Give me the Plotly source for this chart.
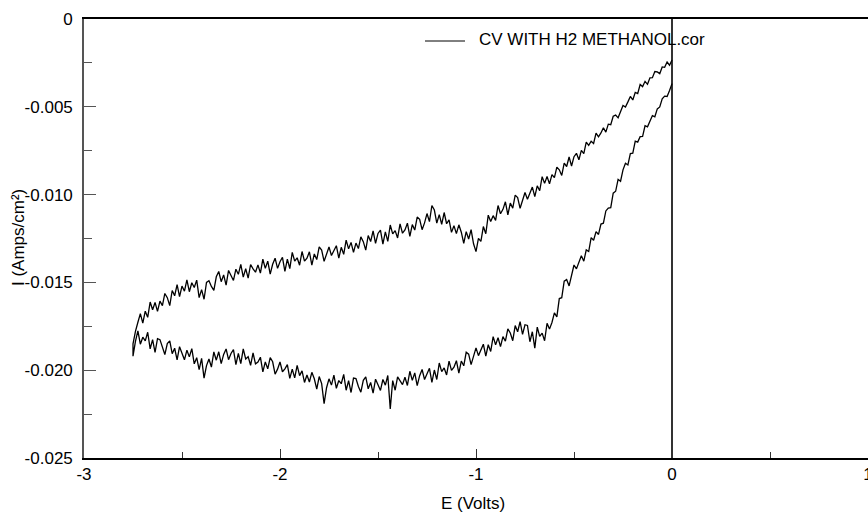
import plotly.graph_objects as go

# Electrode potential grid (V): sweep from 0 V down to the vertex at -2.75 V
E_grid = [
    0.0000, -0.0125, -0.0250, -0.0375, -0.0500, -0.0625, -0.0750, -0.0875, -0.1000, -0.1125,
    -0.1250, -0.1375, -0.1500, -0.1625, -0.1750, -0.1875, -0.2000, -0.2125, -0.2250, -0.2375,
    -0.2500, -0.2625, -0.2750, -0.2875, -0.3000, -0.3125, -0.3250, -0.3375, -0.3500, -0.3625,
    -0.3750, -0.3875, -0.4000, -0.4125, -0.4250, -0.4375, -0.4500, -0.4625, -0.4750, -0.4875,
    -0.5000, -0.5125, -0.5250, -0.5375, -0.5500, -0.5625, -0.5750, -0.5875, -0.6000, -0.6125,
    -0.6250, -0.6375, -0.6500, -0.6625, -0.6750, -0.6875, -0.7000, -0.7125, -0.7250, -0.7375,
    -0.7500, -0.7625, -0.7750, -0.7875, -0.8000, -0.8125, -0.8250, -0.8375, -0.8500, -0.8625,
    -0.8750, -0.8875, -0.9000, -0.9125, -0.9250, -0.9375, -0.9500, -0.9625, -0.9750, -0.9875,
    -1.0000, -1.0125, -1.0250, -1.0375, -1.0500, -1.0625, -1.0750, -1.0875, -1.1000, -1.1125,
    -1.1250, -1.1375, -1.1500, -1.1625, -1.1750, -1.1875, -1.2000, -1.2125, -1.2250, -1.2375,
    -1.2500, -1.2625, -1.2750, -1.2875, -1.3000, -1.3125, -1.3250, -1.3375, -1.3500, -1.3625,
    -1.3750, -1.3875, -1.4000, -1.4125, -1.4250, -1.4375, -1.4500, -1.4625, -1.4750, -1.4875,
    -1.5000, -1.5125, -1.5250, -1.5375, -1.5500, -1.5625, -1.5750, -1.5875, -1.6000, -1.6125,
    -1.6250, -1.6375, -1.6500, -1.6625, -1.6750, -1.6875, -1.7000, -1.7125, -1.7250, -1.7375,
    -1.7500, -1.7625, -1.7750, -1.7875, -1.8000, -1.8125, -1.8250, -1.8375, -1.8500, -1.8625,
    -1.8750, -1.8875, -1.9000, -1.9125, -1.9250, -1.9375, -1.9500, -1.9625, -1.9750, -1.9875,
    -2.0000, -2.0125, -2.0250, -2.0375, -2.0500, -2.0625, -2.0750, -2.0875, -2.1000, -2.1125,
    -2.1250, -2.1375, -2.1500, -2.1625, -2.1750, -2.1875, -2.2000, -2.2125, -2.2250, -2.2375,
    -2.2500, -2.2625, -2.2750, -2.2875, -2.3000, -2.3125, -2.3250, -2.3375, -2.3500, -2.3625,
    -2.3750, -2.3875, -2.4000, -2.4125, -2.4250, -2.4375, -2.4500, -2.4625, -2.4750, -2.4875,
    -2.5000, -2.5125, -2.5250, -2.5375, -2.5500, -2.5625, -2.5750, -2.5875, -2.6000, -2.6125,
    -2.6250, -2.6375, -2.6500, -2.6625, -2.6750, -2.6875, -2.7000, -2.7125, -2.7250, -2.7375,
    -2.7500,
]

# Current density (A/cm^2) on the cathodic sweep, 0 V -> -2.75 V (upper branch)
i_forward = [
    -0.00233, -0.00263, -0.00245, -0.00275, -0.00273, -0.00311, -0.00301, -0.00299, -0.00334, -0.00335,
    -0.00372, -0.00355, -0.00385, -0.00373, -0.00425, -0.00418, -0.00461, -0.00441, -0.00472, -0.00501,
    -0.00492, -0.00530, -0.00563, -0.00547, -0.00554, -0.00602, -0.00599, -0.00644, -0.00619, -0.00649,
    -0.00671, -0.00650, -0.00709, -0.00696, -0.00720, -0.00701, -0.00767, -0.00748, -0.00802, -0.00765,
    -0.00784, -0.00837, -0.00786, -0.00840, -0.00821, -0.00891, -0.00859, -0.00844, -0.00903, -0.00886,
    -0.00939, -0.00897, -0.00936, -0.00898, -0.00978, -0.00950, -0.01012, -0.00957, -0.00995, -0.01027,
    -0.00988, -0.01039, -0.01078, -0.01017, -0.01003, -0.01077, -0.01048, -0.01115, -0.01041, -0.01084,
    -0.01109, -0.01062, -0.01147, -0.01120, -0.01153, -0.01117, -0.01223, -0.01182, -0.01266, -0.01249,
    -0.01325, -0.01280, -0.01200, -0.01253, -0.01211, -0.01278, -0.01214, -0.01172, -0.01222, -0.01177,
    -0.01215, -0.01144, -0.01166, -0.01102, -0.01169, -0.01114, -0.01162, -0.01088, -0.01062, -0.01154,
    -0.01108, -0.01161, -0.01200, -0.01141, -0.01128, -0.01202, -0.01171, -0.01238, -0.01163, -0.01201,
    -0.01220, -0.01167, -0.01247, -0.01205, -0.01224, -0.01173, -0.01266, -0.01212, -0.01282, -0.01202,
    -0.01221, -0.01278, -0.01206, -0.01267, -0.01233, -0.01316, -0.01268, -0.01241, -0.01307, -0.01276,
    -0.01329, -0.01272, -0.01309, -0.01259, -0.01340, -0.01300, -0.01362, -0.01291, -0.01322, -0.01347,
    -0.01298, -0.01346, -0.01380, -0.01316, -0.01298, -0.01370, -0.01338, -0.01402, -0.01326, -0.01362,
    -0.01379, -0.01324, -0.01402, -0.01360, -0.01379, -0.01329, -0.01421, -0.01367, -0.01437, -0.01357,
    -0.01382, -0.01420, -0.01362, -0.01397, -0.01453, -0.01379, -0.01420, -0.01368, -0.01447, -0.01400,
    -0.01442, -0.01423, -0.01398, -0.01476, -0.01422, -0.01470, -0.01397, -0.01454, -0.01425, -0.01489,
    -0.01461, -0.01432, -0.01515, -0.01457, -0.01496, -0.01438, -0.01468, -0.01545, -0.01523, -0.01491,
    -0.01500, -0.01596, -0.01541, -0.01587, -0.01487, -0.01529, -0.01502, -0.01553, -0.01486, -0.01550,
    -0.01521, -0.01581, -0.01513, -0.01576, -0.01546, -0.01632, -0.01587, -0.01563, -0.01632, -0.01607,
    -0.01665, -0.01614, -0.01656, -0.01612, -0.01699, -0.01664, -0.01732, -0.01678, -0.01727, -0.01779,
    -0.01850,
]

# Current density (A/cm^2) on the anodic return sweep, listed on the same grid (lower branch)
i_reverse = [
    -0.00368, -0.00407, -0.00441, -0.00439, -0.00455, -0.00501, -0.00512, -0.00557, -0.00550, -0.00584,
    -0.00614, -0.00608, -0.00668, -0.00670, -0.00701, -0.00696, -0.00764, -0.00766, -0.00831, -0.00821,
    -0.00859, -0.00924, -0.00913, -0.00981, -0.00992, -0.01074, -0.01077, -0.01093, -0.01163, -0.01168,
    -0.01227, -0.01211, -0.01260, -0.01245, -0.01324, -0.01315, -0.01379, -0.01348, -0.01388, -0.01423,
    -0.01401, -0.01466, -0.01520, -0.01484, -0.01493, -0.01587, -0.01592, -0.01696, -0.01674, -0.01728,
    -0.01766, -0.01733, -0.01832, -0.01789, -0.01807, -0.01755, -0.01874, -0.01781, -0.01838, -0.01745,
    -0.01741, -0.01796, -0.01723, -0.01781, -0.01746, -0.01832, -0.01788, -0.01765, -0.01835, -0.01809,
    -0.01866, -0.01815, -0.01856, -0.01809, -0.01893, -0.01855, -0.01920, -0.01852, -0.01888, -0.01917,
    -0.01873, -0.01927, -0.01968, -0.01909, -0.01898, -0.01975, -0.01948, -0.02017, -0.01946, -0.01983,
    -0.02001, -0.01948, -0.02027, -0.01987, -0.02008, -0.01959, -0.02053, -0.01999, -0.02069, -0.01989,
    -0.02015, -0.02053, -0.01996, -0.02031, -0.02088, -0.02015, -0.02058, -0.02006, -0.02087, -0.02040,
    -0.02082, -0.02063, -0.02038, -0.02114, -0.02059, -0.02220, -0.02030, -0.02085, -0.02053, -0.02115,
    -0.02083, -0.02051, -0.02131, -0.02070, -0.02106, -0.02038, -0.02058, -0.02125, -0.02093, -0.02048,
    -0.02045, -0.02127, -0.02059, -0.02114, -0.02024, -0.02077, -0.02059, -0.02103, -0.02028, -0.02085,
    -0.02049, -0.02100, -0.02190, -0.02076, -0.02036, -0.02108, -0.02049, -0.02012, -0.02067, -0.02027,
    -0.02070, -0.02004, -0.02031, -0.01972, -0.02044, -0.01994, -0.02047, -0.01968, -0.01992, -0.02009,
    -0.01953, -0.01994, -0.02023, -0.01952, -0.01928, -0.01992, -0.01953, -0.02010, -0.01926, -0.01954,
    -0.01964, -0.01902, -0.01972, -0.01923, -0.01936, -0.01878, -0.01963, -0.01904, -0.01968, -0.01883,
    -0.01905, -0.01940, -0.01879, -0.01910, -0.01963, -0.01895, -0.01943, -0.01896, -0.01982, -0.01936,
    -0.01974, -0.02045, -0.01933, -0.01997, -0.01929, -0.01964, -0.01877, -0.01924, -0.01886, -0.01941,
    -0.01903, -0.01866, -0.01941, -0.01875, -0.01906, -0.01833, -0.01848, -0.01911, -0.01875, -0.01826,
    -0.01820, -0.01898, -0.01826, -0.01878, -0.01784, -0.01833, -0.01812, -0.01852, -0.01776, -0.01836,
    -0.01920,
]

assert len(E_grid) == len(i_forward) == len(i_reverse)

x_tick_vals = [-3, -2, -1, 0, 1]
x_tick_text = ["-3", "-2", "-1", "0", "1"]
y_tick_vals = [0, -0.005, -0.010, -0.015, -0.020, -0.025]
y_tick_text = ["0", "-0.005", "-0.010", "-0.015", "-0.020", "-0.025"]

series_name = "CV WITH H2 METHANOL.cor"
FONT = "Liberation Sans, Arial, sans-serif"

# full cycle: cathodic sweep out to the vertex, then the return sweep back to 0 V
E_cycle = E_grid + E_grid[::-1]
i_cycle = i_forward + i_reverse[::-1]

fig = go.Figure()
fig.add_trace(go.Scatter(
    x=E_cycle, y=i_cycle, mode="lines", name=series_name,
    line=dict(color="black", width=1.3), showlegend=False,
))

fig.update_layout(
    width=868, height=515,
    margin=dict(l=84, r=0, t=19, b=57),
    paper_bgcolor="white", plot_bgcolor="white",
    font=dict(family=FONT, size=17, color="black"),
    xaxis=dict(
        range=[-3, 1], tickvals=x_tick_vals, ticktext=x_tick_text,
        showgrid=False, zeroline=True, zerolinecolor="#333333", zerolinewidth=1.5,
        showline=True, linecolor="black", linewidth=1.5, mirror=True,
        ticks="inside", ticklen=9, tickwidth=1.2, tickcolor="#333333",
        minor=dict(ticks="inside", ticklen=6, dtick=0.5, tick0=-3,
                   tickwidth=1.2, tickcolor="#333333", showgrid=False),
        tickfont=dict(family=FONT, size=17), ticklabeloverflow="allow",
        automargin=False, fixedrange=True,
    ),
    yaxis=dict(
        range=[-0.025, 0], tickvals=y_tick_vals, ticktext=y_tick_text,
        showgrid=False, zeroline=False,
        showline=True, linecolor="#555555", linewidth=1.6,
        ticks="inside", ticklen=12, tickwidth=1.2, tickcolor="#555555",
        minor=dict(ticks="inside", ticklen=8, dtick=0.0025, tick0=0,
                   tickwidth=1.2, tickcolor="#555555", showgrid=False),
        tickfont=dict(family=FONT, size=17), ticklabelstandoff=6,
        automargin=False, fixedrange=True,
    ),
    shapes=[
        # legend key line
        dict(type="line", xref="paper", yref="paper",
             x0=(425 - 84) / 784, x1=(465 - 84) / 784,
             y0=(458 - 41) / 439, y1=(458 - 41) / 439,
             line=dict(color="black", width=1)),
    ],
    annotations=[
        dict(text=series_name, xref="paper", yref="paper",
             x=(477 - 84) / 784, y=(458 - 40) / 439, xanchor="left", yanchor="middle",
             showarrow=False, font=dict(family=FONT, size=17)),
        dict(text="E (Volts)", xref="paper", yref="paper",
             x=(473 - 84) / 784, y=(458 - 503) / 439, xanchor="center", yanchor="middle",
             showarrow=False, font=dict(family=FONT, size=17)),
        dict(text="I (Amps/cm²)", xref="paper", yref="paper",
             x=(19 - 84) / 784, y=(458 - 238) / 439, xanchor="center", yanchor="middle",
             textangle=-90, showarrow=False, font=dict(family=FONT, size=17)),
    ],
)

fig.write_html("out.html")
